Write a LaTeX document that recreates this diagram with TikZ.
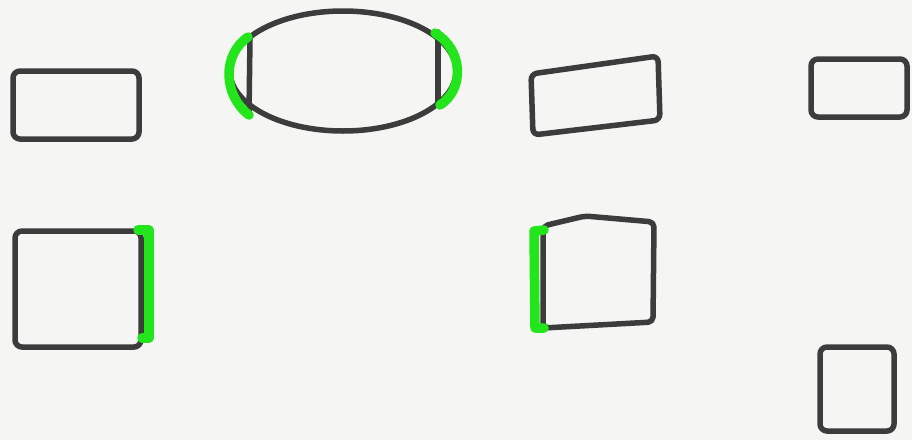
\documentclass[tikz,border=0pt]{standalone}
\usetikzlibrary{shapes.geometric}
\definecolor{ink}{HTML}{3C3C3C}
\definecolor{hl}{HTML}{22E51C}
\definecolor{paper}{HTML}{F5F5F3}
\begin{document}
\begin{tikzpicture}[x=1pt,y=-1pt,
  box/.style={draw=ink,line width=5.5pt,rounded corners=7pt,inner sep=0pt},
  inkline/.style={draw=ink,line width=5.5pt,line cap=round,line join=round},
  hilite/.style={draw=hl,line width=9.5pt,line cap=round,line join=round}]
\fill[paper] (0,0) rectangle (912,440);
\useasboundingbox (0,0) rectangle (912,440);
% top row
\node[box,minimum width=126pt,minimum height=68pt] (r1) at (76,105) {};
\node[draw=ink,line width=5.5pt,ellipse,minimum width=226pt,minimum height=120pt,inner sep=0pt] (el) at (343,71) {};
\draw[inkline] (250,38) -- (249,114);
\draw[inkline] (438,32) -- (438,104);
\draw[hilite] (248,37) .. controls (222,55) and (223,95) .. (249,115);
\draw[hilite] (435,33) .. controls (464,50) and (464,90) .. (440,105);
\draw[inkline,rounded corners=6pt] (531,74) -- (658,56) -- (660,120) -- (533,135) -- cycle;
\node[box,minimum width=96pt,minimum height=58pt] (r4) at (859,88) {};
% lower row
\node[box,minimum width=126pt,minimum height=116pt] (r5) at (78,289) {};
\draw[hilite] (138,230) -- (149,230) -- (149,338) -- (142,338);
\draw[inkline,rounded corners=5pt] (543,226) -- (585,216) -- (654,222) -- (653,322) -- (543,328) -- cycle;
\draw[hilite] (544,230) -- (534,231) -- (535,328) -- (544,328);
\node[box,minimum width=74pt,minimum height=84pt] (r7) at (857,389) {};
\end{tikzpicture}
\end{document}
